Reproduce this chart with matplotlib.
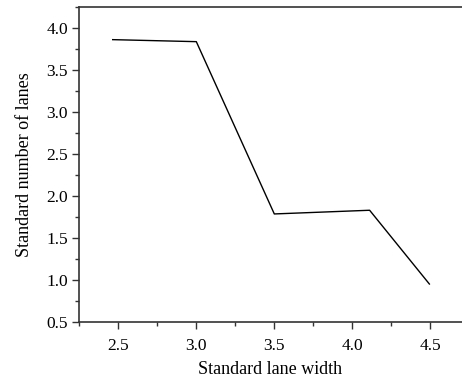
import matplotlib
matplotlib.use("Agg")
import matplotlib.pyplot as plt
from matplotlib.ticker import MultipleLocator

lane_width = [2.464, 3.0, 3.5, 4.111, 4.494]
num_lanes = [3.861, 3.837, 1.784, 1.828, 0.949]

plt.rcParams['font.family'] = ['Liberation Serif', 'DejaVu Serif']

W, H = 462, 379
left_px, bottom_px, top_px = 79, 321.7, 7
xmin, xmax = 2.248, 4.75
ppu = 156.0
width_px = (xmax - xmin) * ppu

fig = plt.figure(figsize=(4.62, 3.79), dpi=100)
ax = fig.add_axes([left_px / W, 1 - bottom_px / H, width_px / W, (bottom_px - top_px) / H])
ax.plot(lane_width, num_lanes, color='black', linewidth=1.0)
ax.set_xlim(xmin, xmax)
ax.set_ylim(0.5, 4.25)
ax.xaxis.set_major_locator(MultipleLocator(0.5))
ax.xaxis.set_minor_locator(MultipleLocator(0.25))
ax.yaxis.set_major_locator(MultipleLocator(0.5))
ax.yaxis.set_minor_locator(MultipleLocator(0.25))
ax.set_xticks([2.5, 3.0, 3.5, 4.0, 4.5])
for s in ['left', 'bottom', 'top']:
    ax.spines[s].set_color('#333333')
    ax.spines[s].set_linewidth(1.2)
ax.spines['right'].set_visible(False)
ax.tick_params(which='major', direction='out', length=5, width=1, color='#333333', labelsize=12.5)
ax.tick_params(axis='y', pad=3)
ax.tick_params(axis='x', pad=7)
ax.tick_params(which='minor', direction='out', length=3, width=1, color='#333333')
ax.set_xlabel('Standard lane width', fontsize=13)
ax.set_ylabel('Standard number of lanes', fontsize=13)
ax.xaxis.set_label_coords((270 - left_px) / width_px, -(369 - bottom_px) / (bottom_px - top_px))
ax.xaxis.label.set_va('center')
ax.yaxis.set_label_coords(-(left_px - 25) / width_px, 0.5)
ax.yaxis.label.set_va('center')
fig.savefig('out.png', dpi=100)
